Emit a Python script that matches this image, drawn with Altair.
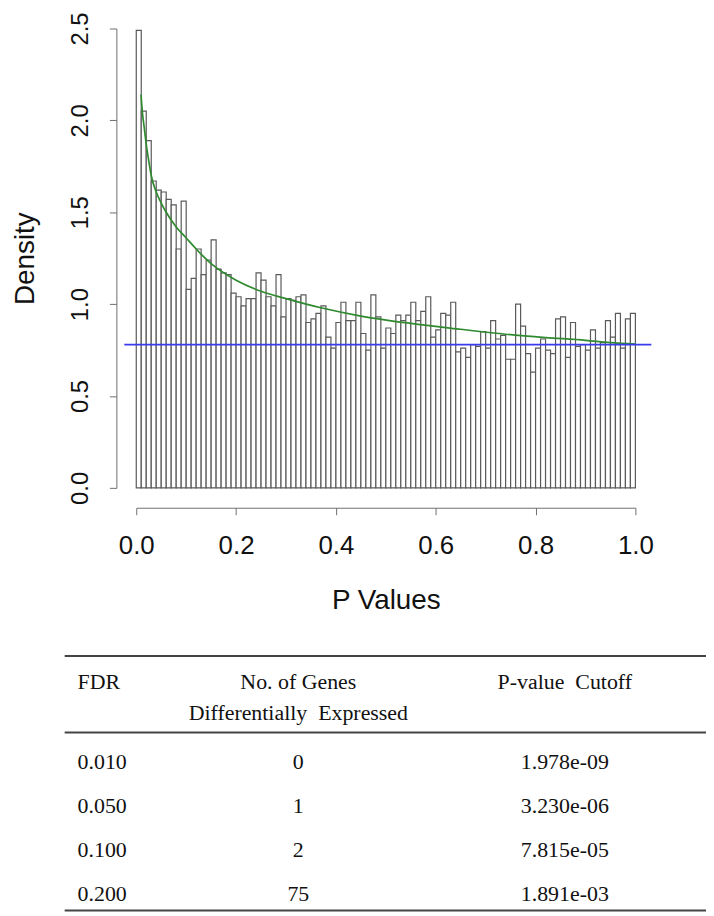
import altair as alt
import pandas as pd

# ---------------- data ----------------
bin_start = [i / 100 for i in range(100)]
density = [
    2.49, 2.05, 1.89, 1.67, 1.62, 1.61, 1.57, 1.54, 1.30, 1.56,
    1.08, 1.14, 1.30, 1.16, 1.24, 1.35, 1.19, 1.17, 1.16, 1.06,
    1.04, 0.99, 1.03, 1.03, 1.17, 1.13, 1.04, 0.99, 1.16, 0.93,
    1.03, 1.02, 1.04, 1.05, 0.90, 0.92, 0.95, 0.99, 0.82, 0.76,
    0.90, 1.01, 0.91, 0.91, 1.01, 0.84, 0.75, 1.05, 0.93, 0.76,
    0.87, 0.84, 0.94, 0.91, 0.94, 1.01, 0.91, 0.96, 1.04, 0.82,
    0.86, 0.95, 0.94, 1.01, 0.74, 0.76, 0.71, 0.78, 0.77, 0.85,
    0.76, 0.91, 0.81, 0.83, 0.70, 0.70, 1.00, 0.88, 0.73, 0.63,
    0.76, 0.81, 0.75, 0.73, 0.92, 0.93, 0.71, 0.90, 0.77, 0.78,
    0.75, 0.86, 0.76, 0.79, 0.91, 0.82, 0.95, 0.76, 0.92, 0.95,
]
curve_p = [0.0095, 0.012, 0.016, 0.02, 0.025, 0.03, 0.04, 0.05, 0.06, 0.08,
           0.10, 0.12, 0.15, 0.20, 0.25, 0.30, 0.37, 0.45, 0.55, 0.65,
           0.74, 0.82, 0.90, 0.95, 1.00]
curve_d = [2.14, 2.05, 1.96, 1.87, 1.78, 1.70, 1.61, 1.55, 1.50, 1.42,
           1.36, 1.30, 1.22, 1.13, 1.07, 1.03, 0.98, 0.935, 0.895, 0.863,
           0.836, 0.818, 0.803, 0.790, 0.782]
pi0 = [0.78]

fdr_levels = ["0.010", "0.050", "0.100", "0.200"]
n_genes = ["0", "1", "2", "75"]
p_cutoff = ["1.978e-09", "3.230e-06", "7.815e-05", "1.891e-03"]
row_keys = ["r1", "r2", "r3", "r4"]
head_fdr = ["FDR"]
head_genes = ["No. of Genes"]
head_genes2 = ["Differentially\u00a0\u00a0Expressed"]
head_cut = ["P-value\u00a0\u00a0Cutoff"]

x_ticks = [0.0, 0.2, 0.4, 0.6, 0.8, 1.0]
y_ticks = [0.0, 0.5, 1.0, 1.5, 2.0, 2.5]

# ---------------- histogram ----------------
hist_df = pd.DataFrame({"start": bin_start,
                        "end": [s + 0.01 for s in bin_start],
                        "density": density})
curve_df = pd.DataFrame({"p": curve_p, "d": curve_d})
pi_df = pd.DataFrame({"y": pi0})

SANS = "Liberation Sans"
SERIF = "Liberation Serif"

x_scale = alt.Scale(domain=[0, 1], nice=False, zero=False)
y_scale = alt.Scale(domain=[0, 2.5], nice=False)

common = dict(offset=20, tickSize=7, labelFont=SANS, titleFont=SANS,
              titleFontWeight="normal", domainColor="#6f6f6f", tickColor="#6f6f6f",
              labelColor="#111111", titleColor="#111111", grid=False,
              labelFlush=False, labelOverlap=False, titleFontSize=28)
x_axis = alt.Axis(title="P Values", values=x_ticks, format=".1f",
                  labelPadding=18, titlePadding=28, labelFontSize=26, **common)
y_axis = alt.Axis(title="Density", values=y_ticks, format=".1f",
                  labelAngle=-90, labelAlign="center", labelBaseline="alphabetic",
                  labelPadding=22, titlePadding=29, labelFontSize=24, **common)

bars = alt.Chart(hist_df).mark_rect(fill="white", stroke="#5a5a5a", strokeWidth=1.2).encode(
    x=alt.X("start:Q", scale=x_scale, axis=x_axis),
    x2="end:Q",
    y=alt.Y("density:Q", scale=y_scale, axis=y_axis),
    y2=alt.datum(0),
)
curve = alt.Chart(curve_df).mark_line(color="#2f8a2f", strokeWidth=1.7,
                                      interpolate="monotone").encode(
    x=alt.X("p:Q", scale=x_scale, axis=x_axis),
    y=alt.Y("d:Q", scale=y_scale, axis=y_axis),
)
blue = alt.Chart(pi_df).mark_rule(color="#3a3af0", strokeWidth=1.8).encode(
    y=alt.Y("y:Q", scale=y_scale, axis=y_axis),
    x=alt.value(-12),
    x2=alt.value(518),
)
hist_layer = alt.layer(bars, curve, blue)

# ---------------- table ----------------
tab_df = pd.DataFrame({"row": row_keys, "fdr": fdr_levels,
                       "genes": n_genes, "cut": p_cutoff})
row_y = alt.Y("row:O", scale=alt.Scale(type="point", domain=row_keys,
                                       range=[738, 871], padding=0), axis=None)
txt = dict(font=SERIF, fontSize=22, color="#111111", baseline="middle")

col_fdr = alt.Chart(tab_df).mark_text(align="left", **txt).encode(
    x=alt.value(-59), y=row_y, text="fdr:N")
col_gen = alt.Chart(tab_df).mark_text(align="center", **txt).encode(
    x=alt.value(163), y=row_y, text="genes:N")
col_cut = alt.Chart(tab_df).mark_text(align="center", **txt).encode(
    x=alt.value(431), y=row_y, text="cut:N")

h1 = alt.Chart(pd.DataFrame({"t": head_fdr})).mark_text(align="left", **txt).encode(
    x=alt.value(-59), y=alt.value(657), text="t:N")
h2 = alt.Chart(pd.DataFrame({"t": head_genes})).mark_text(align="center", **txt).encode(
    x=alt.value(163), y=alt.value(657), text="t:N")
h3 = alt.Chart(pd.DataFrame({"t": head_genes2})).mark_text(align="center", **txt).encode(
    x=alt.value(163), y=alt.value(688), text="t:N")
h4 = alt.Chart(pd.DataFrame({"t": head_cut})).mark_text(align="center", **txt).encode(
    x=alt.value(431), y=alt.value(657), text="t:N")

line_style = dict(color="#444444", strokeWidth=2)
r_top = alt.Chart(pd.DataFrame({"a": [0]})).mark_rule(**line_style).encode(
    x=alt.value(-72), x2=alt.value(573), y=alt.value(631))
r_mid = alt.Chart(pd.DataFrame({"a": [0]})).mark_rule(**line_style).encode(
    x=alt.value(-72), x2=alt.value(573), y=alt.value(708))
r_bot = alt.Chart(pd.DataFrame({"a": [0]})).mark_rule(**line_style).encode(
    x=alt.value(-72), x2=alt.value(573), y=alt.value(887))

table_layer = alt.layer(col_fdr, col_gen, col_cut, h1, h2, h3, h4, r_top, r_mid, r_bot)

chart = alt.layer(hist_layer, table_layer).resolve_scale(y="independent").properties(
    width=502, height=462,
    autosize=alt.AutoSizeParams(type="none"),
    padding={"left": 129, "top": 18, "right": 71, "bottom": 428},
    background="white",
).configure_view(stroke=None)

chart.save("out.html", embed_options={"renderer": "svg", "actions": False})
